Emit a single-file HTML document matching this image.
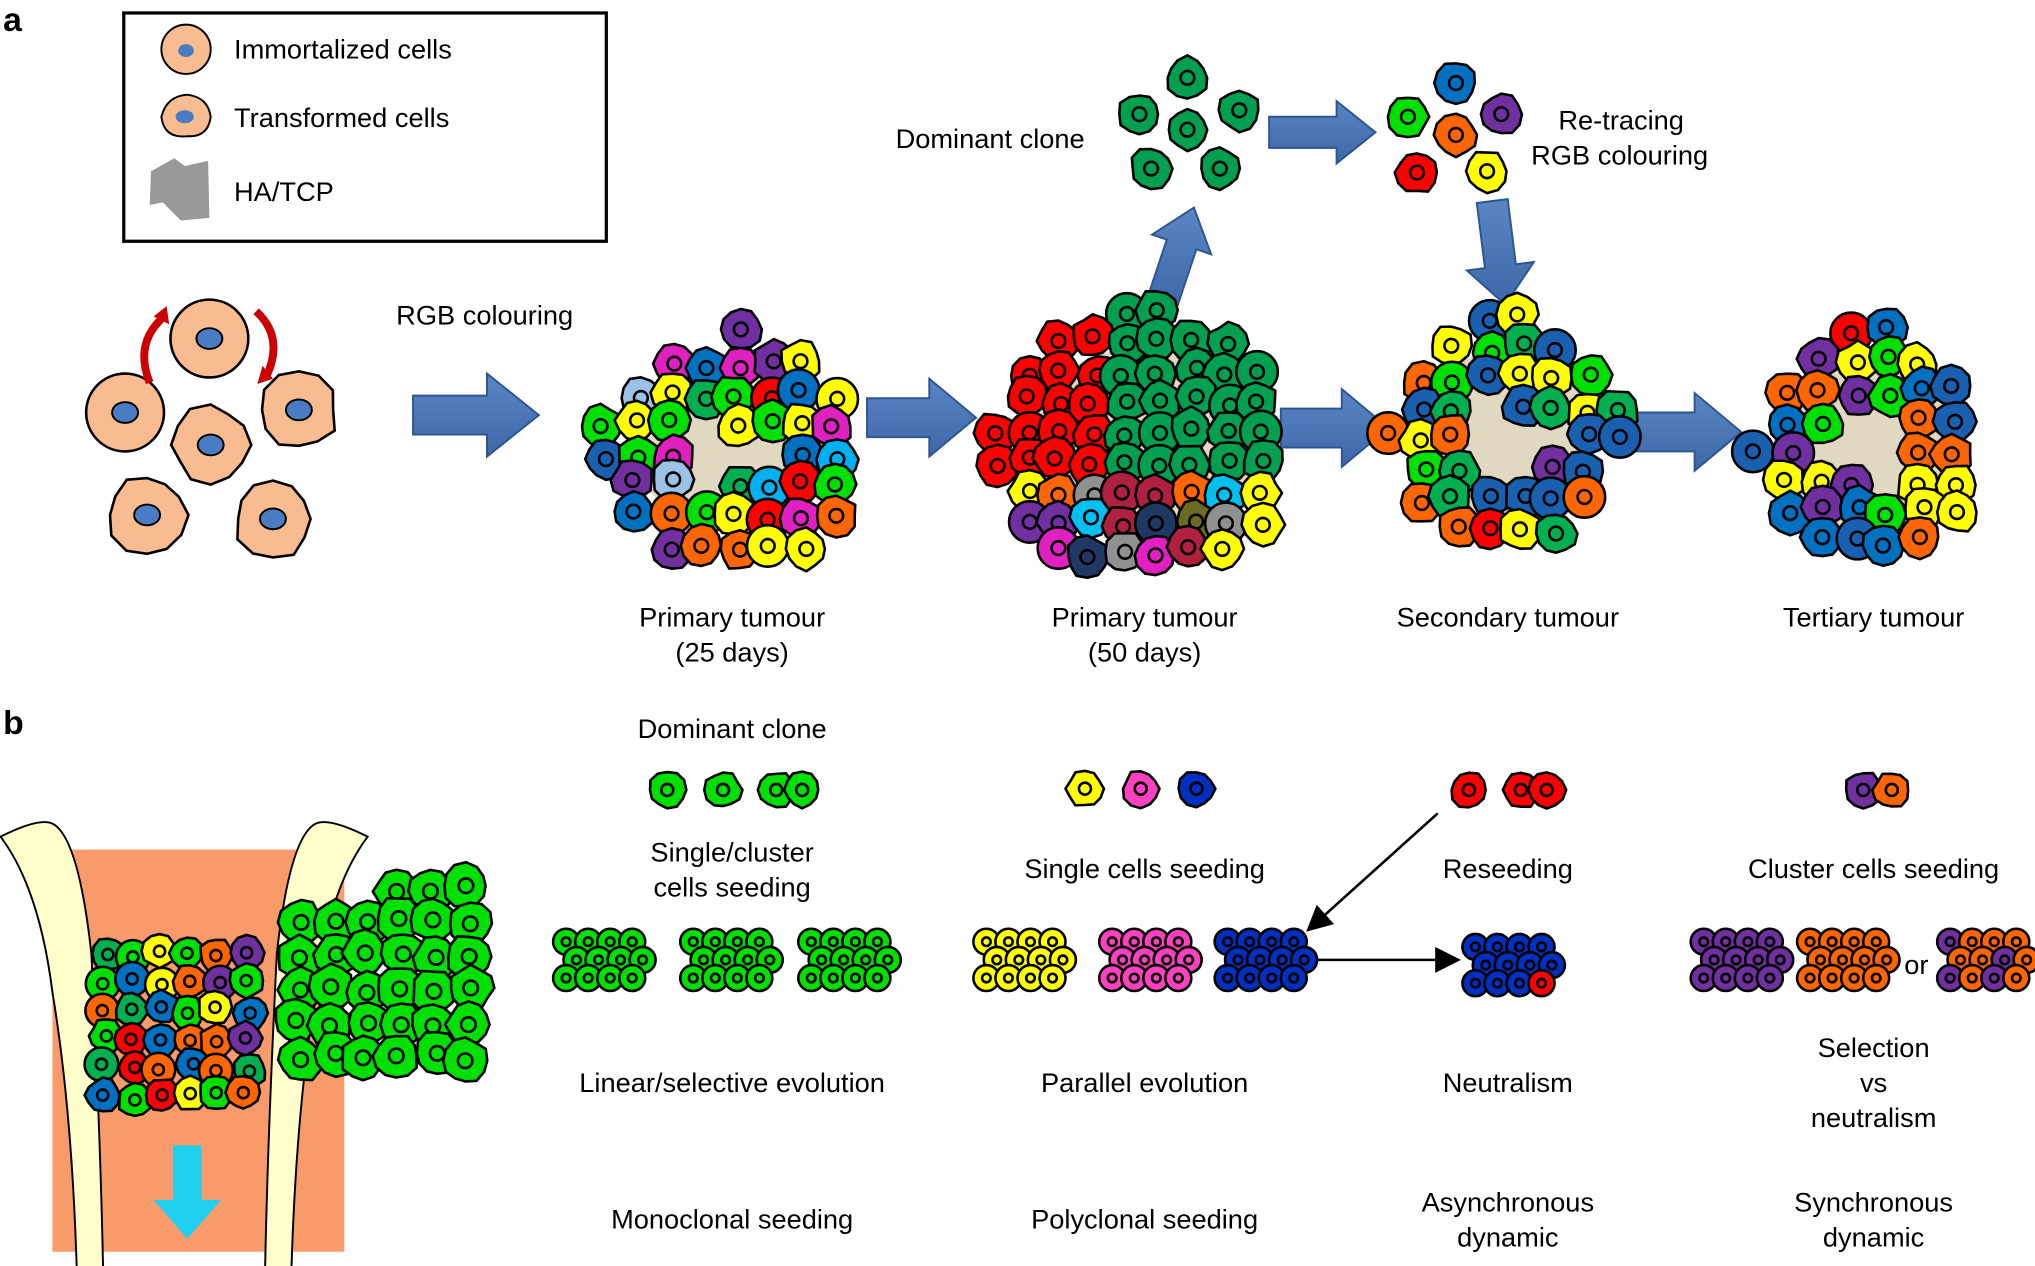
<!DOCTYPE html>
<html><head><meta charset="utf-8"><style>
html,body{margin:0;padding:0;background:#fff;width:2035px;height:1266px;overflow:hidden}
svg{display:block}
text{font-family:"Liberation Sans",Arial,sans-serif;font-size:21px;fill:#000}
</style></head><body>
<svg id="s" width="2035" height="1266" viewBox="0 0 1568 976" xmlns="http://www.w3.org/2000/svg">
<defs>
<marker id="ah" markerWidth="10" markerHeight="10" refX="9" refY="5" orient="auto"><path d="M0,0 L10,5 L0,10 z" fill="#000"/></marker>
<linearGradient id="bg" x1="0" y1="0" x2="0" y2="1"><stop offset="0" stop-color="#5b86c4"/><stop offset="1" stop-color="#3d67a8"/></linearGradient>
</defs>
<text x="2" y="24" style="font-weight:bold;font-size:26px">a</text>
<text x="2" y="566" style="font-weight:bold;font-size:26px">b</text>
<rect x="95" y="10" width="372" height="176" fill="#fff" stroke="#000" stroke-width="2.5"/>
<circle cx="143" cy="38" r="19" fill="#f8bc90" stroke="#000" stroke-width="1.5"/><ellipse cx="143" cy="39" rx="6" ry="5" fill="#4a7cc4"/>
<path d="M124,90 q4,-16 20,-17 q16,2 18,17 q-2,16 -18,15 q-18,2 -20,-15z" fill="#f8bc90" stroke="#000" stroke-width="1.5"/><ellipse cx="142" cy="90" rx="7" ry="5" fill="#4a7cc4"/>
<path d="M116,132 l18,-10 l8,6 l18,-4 l1,44 l-22,2 l-14,-14 l-10,2z" fill="#999"/>
<text x="180" y="45">Immortalized cells</text>
<text x="180" y="98">Transformed cells</text>
<text x="180" y="155">HA/TCP</text>
<g id="g"></g>
<path d="M125,245 q-22,20 -10,50" fill="none" stroke="#c00" stroke-width="6"/><path d="M118,244 l10,-8 l2,14z" fill="#c00"/>
<path d="M197,240 q22,20 8,50" fill="none" stroke="#c00" stroke-width="6"/><path d="M198,296 l12,-4 l-8,-10z" fill="#c00"/>
<text x="305" y="250">RGB colouring</text>
<text x="690" y="114">Dominant clone</text>
<text x="1201" y="100">Re-tracing</text>
<text x="1180" y="127">RGB colouring</text>
<g text-anchor="middle">
<text x="564" y="483">Primary tumour</text><text x="564" y="510">(25 days)</text>
<text x="882" y="483">Primary tumour</text><text x="882" y="510">(50 days)</text>
<text x="1162" y="483">Secondary tumour</text>
<text x="1444" y="483">Tertiary tumour</text>
<text x="564" y="569">Dominant clone</text>
<text x="564" y="664">Single/cluster</text><text x="564" y="691">cells seeding</text>
<text x="882" y="677">Single cells seeding</text>
<text x="1162" y="677">Reseeding</text>
<text x="1444" y="677">Cluster cells seeding</text>
<text x="564" y="842">Linear/selective evolution</text>
<text x="882" y="842">Parallel evolution</text>
<text x="1162" y="842">Neutralism</text>
<text x="1444" y="815">Selection</text><text x="1444" y="842">vs</text><text x="1444" y="869">neutralism</text>
<text x="564" y="947">Monoclonal seeding</text>
<text x="882" y="947">Polyclonal seeding</text>
<text x="1162" y="934">Asynchronous</text><text x="1162" y="961">dynamic</text>
<text x="1444" y="934">Synchronous</text><text x="1444" y="961">dynamic</text>
<text x="1477" y="751">or</text>
</g>
<line x1="1108" y1="627" x2="1008" y2="717" stroke="#000" stroke-width="2" marker-end="url(#ah)"/>
<line x1="1016" y1="740" x2="1124" y2="740" stroke="#000" stroke-width="2" marker-end="url(#ah)"/>
</svg>
<script>
var g=document.getElementById('g'),NS='http://www.w3.org/2000/svg';
var seed=7;function r(){seed=(seed*16807)%2147483647;return seed/2147483647;}
function add(tag,a){var e=document.createElementNS(NS,tag);for(var k in a)e.setAttribute(k,a[k]);g.appendChild(e);return e;}
function blob(cx,cy,R){var p='',n=12;for(var i=0;i<n;i++){var a=i/n*6.283,rr=R*(0.88+r()*0.2);p+=(i?'L':'M')+(cx+rr*Math.cos(a)).toFixed(1)+','+(cy+rr*Math.sin(a)).toFixed(1);}return p+'Z';}
function cell(cx,cy,R,col,round){
 if(round)add('circle',{cx:cx,cy:cy,r:R,fill:col,stroke:'#000','stroke-width':2});
 else add('path',{d:blob(cx,cy,R),fill:col,stroke:'#000','stroke-width':2,'stroke-linejoin':'round'});
 add('circle',{cx:cx,cy:cy,r:R*0.33,fill:'none',stroke:'#000','stroke-width':2});
}
function arrow(x1,y1,x2,y2,w,hw,hl){var dx=x2-x1,dy=y2-y1,L=Math.hypot(dx,dy),ux=dx/L,uy=dy/L,px=-uy,py=ux;var bx=x2-ux*hl,by=y2-uy*hl;
 var pts=[[x1+px*w,y1+py*w],[bx+px*w,by+py*w],[bx+px*hw,by+py*hw],[x2,y2],[bx-px*hw,by-py*hw],[bx-px*w,by-py*w],[x1-px*w,y1-py*w]];
 add('polygon',{points:pts.map(function(p){return p.join(',')}).join(' '),fill:'url(#bg)',stroke:'#2d5590','stroke-width':1.5});}
var P=['#ff0000','#0070c0','#ffff00','#00e000','#7030a0','#ff6600','#00b050','#1a60b0','#ff6600','#ffff00'];
function tumour(cx,cy,w,h,pal,beige,rs){
 add('ellipse',{cx:cx,cy:cy,rx:w*0.38,ry:h*0.36,fill:'#e0d8c0'});
 var R=rs||16;
 for(var y=cy-h/2;y<=cy+h/2;y+=R*1.45)for(var x=cx-w/2;x<=cx+w/2;x+=R*1.6){
  var nx=(x-cx)/(w/2),ny=(y-cy)/(h/2);if(nx*nx+ny*ny>1.05)continue;
  if(beige&&nx*nx+ny*ny<0.2&&r()<0.7)continue;
  cell(x+(r()-.5)*8,y+(r()-.5)*8,R,typeof pal=='function'?pal(nx,ny):pal[Math.floor(r()*pal.length)],r()<0.15);}
}
[[161,261,30],[96,318,30],[230,316,30],[162,343,30],[113,397,30],[210,400,30]].forEach(function(c,i){
 if(i<2)add('circle',{cx:c[0],cy:c[1],r:c[2],fill:'#f8bc90',stroke:'#000','stroke-width':2});
 else add('path',{d:blob(c[0],c[1],c[2]),fill:'#f8bc90',stroke:'#000','stroke-width':2});
 add('ellipse',{cx:c[0],cy:c[1],rx:10,ry:8,fill:'#4a7cc4',stroke:'#000','stroke-width':1.5});});
arrow(318,320,415,320,15,32,40);
arrow(668,322,752,322,15,30,36);
arrow(987,330,1070,330,15,30,36);
arrow(1258,333,1342,333,15,30,36);
arrow(978,102,1060,102,12,24,30);
arrow(895,235,920,160,12,24,30);
arrow(1150,155,1160,235,12,26,30);
tumour(565,345,200,175,P.concat(['#00b0f0','#e020c0','#9bc2e6']),true,16);
tumour(880,340,230,200,function(nx,ny){if(ny<0.3&&nx<-0.2)return '#ff0000';if(ny<0.35)return '#00a050';return ['#7030a0','#00b050','#ffff00','#6b6b20','#e020c0','#b02040','#909090','#00c0f0','#1f3864','#ff6600'][Math.floor(r()*10)];},false,16);
tumour(1160,335,180,180,P,true,16);
tumour(1440,345,175,180,P,true,16);
[[915,60],[878,88],[955,85],[915,100],[887,130],[940,130]].forEach(function(c){cell(c[0],c[1],16,'#00a050');});
[[1122,64,'#0070c0'],[1085,90,'#00e000'],[1157,88,'#7030a0'],[1122,104,'#ff6600'],[1092,133,'#ff0000'],[1146,132,'#ffff00']].forEach(function(c){cell(c[0],c[1],16,c[2]);});
[[514,609,'#00e000'],[557,609,'#00e000'],[598,609,'#00e000'],[618,609,'#00e000'],[836,608,'#ffff00'],[879,608,'#ff40c0'],[922,608,'#0030c0'],[1132,609,'#ff0000'],[1172,609,'#ff0000'],[1192,609,'#ff0000'],[1436,609,'#7030a0'],[1458,609,'#ff6600']].forEach(function(c){cell(c[0],c[1],14,c[2]);});
function clump(cx,cy,cols){for(var j=0;j<3;j++)for(var i=0;i<4;i++){var x=cx-27+i*17+(j%2)*8,y=cy-14+j*14;cell(x,y,10,cols[Math.floor(r()*cols.length)],true);}}
clump(463,740,['#00e000']);clump(561,740,['#00e000']);clump(652,740,['#00e000']);
clump(787,740,['#ffff00']);clump(884,740,['#ff40c0']);clump(973,740,['#0030c0']);
clump(1164,744,['#ff0000','#0030c0','#0030c0']);
clump(1340,740,['#7030a0']);clump(1422,740,['#ff6600']);clump(1530,740,['#7030a0','#ff6600']);
add('rect',{x:40,y:655,width:225,height:310,fill:'#f89a6a'});
add('path',{d:'M0,645 q30,-15 40,-10 q20,10 30,100 q10,200 10,330 l-20,0 q0,-180 -20,-300 q-10,-80 -40,-120z',fill:'#ffffcc',stroke:'#000','stroke-width':1.5});
add('path',{d:'M283,645 q-30,-15 -40,-10 q-20,10 -30,100 q-10,200 -10,330 l20,0 q0,-180 20,-300 q10,-80 40,-120z',fill:'#ffffcc',stroke:'#000','stroke-width':1.5});
for(var y=735;y<=865;y+=22)for(var x=80;x<=200;x+=22)cell(x+(r()-.5)*6,y+(r()-.5)*6,13,P[Math.floor(r()*7)],r()<0.25);
for(var y=685;y<=840;y+=26)for(var x=230;x<=370;x+=26){if(y<700&&x<290)continue;cell(x+(r()-.5)*6,y+(r()-.5)*6,17,'#00e000');}
add('polygon',{points:'133,883 155,883 155,925 170,925 144,955 118,925 133,925',fill:'#20d0f0'});
</script>
</body></html>
